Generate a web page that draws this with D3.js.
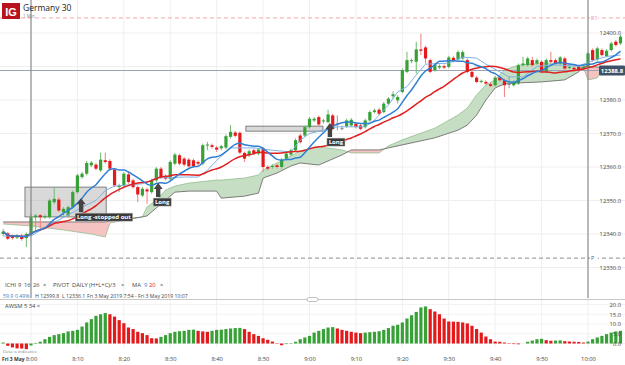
<!DOCTYPE html>
<html>
<head>
<meta charset="utf-8">
<script src="https://cdn.jsdelivr.net/npm/d3@7"></script>
<style>
  body { margin: 0; background: #fff; }
  svg { display: block; font-family: "Open Sans", Roboto, sans-serif; }
</style>
</head>
<body>
<div id="chart"></div>
<script>
// 1 minute candles, Fri 3 May 2019, first one at 7:54 : [open, high, low, close]
const firstCandle = [7, 54];
const candles = [
  [12340.0, 12341.5, 12339.5, 12340.7], [12340.2, 12340.6, 12338.2, 12338.6],
  [12339.2, 12339.8, 12338.3, 12338.8], [12338.9, 12339.9, 12338.5, 12339.5],
  [12339.5, 12340.0, 12338.0, 12338.5], [12338.8, 12340.5, 12336.1, 12340.0],
  [12339.8, 12346.0, 12339.5, 12345.0], [12345.0, 12346.0, 12341.0, 12345.5],
  [12345.6, 12346.0, 12341.5, 12345.0], [12345.0, 12345.8, 12344.5, 12345.3],
  [12345.0, 12350.5, 12344.6, 12350.0], [12349.5, 12354.0, 12349.0, 12350.5],
  [12350.3, 12351.0, 12346.5, 12347.0], [12346.5, 12348.0, 12345.5, 12347.5],
  [12345.5, 12348.5, 12345.0, 12348.0], [12348.0, 12353.0, 12347.5, 12352.5],
  [12352.5, 12358.0, 12352.0, 12357.5], [12357.0, 12358.5, 12356.5, 12358.0],
  [12358.0, 12361.8, 12357.5, 12361.2], [12360.5, 12361.8, 12360.0, 12361.3],
  [12360.7, 12361.2, 12359.0, 12359.5], [12359.0, 12364.3, 12358.5, 12362.2],
  [12362.0, 12364.3, 12361.0, 12361.5], [12361.8, 12362.3, 12359.0, 12359.5],
  [12359.2, 12359.6, 12354.0, 12354.5], [12354.0, 12355.0, 12352.5, 12354.5],
  [12354.5, 12358.5, 12354.0, 12358.0], [12357.8, 12358.3, 12355.0, 12355.5],
  [12356.0, 12356.5, 12353.5, 12354.0], [12354.0, 12354.5, 12349.5, 12351.8],
  [12351.5, 12354.0, 12351.0, 12353.5], [12353.3, 12353.8, 12349.0, 12352.7],
  [12352.5, 12356.5, 12352.0, 12356.0], [12356.0, 12360.0, 12355.5, 12359.5],
  [12359.5, 12360.0, 12356.5, 12357.0], [12357.2, 12357.8, 12356.0, 12356.5],
  [12356.5, 12362.0, 12356.0, 12361.5], [12361.0, 12364.2, 12360.5, 12363.7],
  [12363.5, 12364.0, 12360.5, 12361.0], [12362.5, 12363.0, 12360.2, 12360.7],
  [12362.2, 12362.7, 12359.8, 12360.2], [12362.0, 12362.5, 12359.8, 12360.3],
  [12361.5, 12362.0, 12360.5, 12361.0], [12361.0, 12367.0, 12360.5, 12366.5],
  [12366.5, 12367.5, 12365.0, 12366.7], [12366.5, 12367.0, 12365.5, 12366.0],
  [12365.8, 12366.3, 12364.5, 12365.2], [12365.6, 12366.6, 12365.0, 12366.2],
  [12365.8, 12369.7, 12365.3, 12369.2], [12369.0, 12372.5, 12368.5, 12370.5],
  [12370.3, 12370.8, 12368.8, 12369.3], [12370.2, 12370.6, 12363.8, 12364.3],
  [12364.2, 12364.6, 12361.5, 12362.5], [12363.5, 12365.2, 12363.0, 12364.7],
  [12365.0, 12365.5, 12363.5, 12364.0], [12364.0, 12365.7, 12363.5, 12365.2],
  [12365.5, 12366.0, 12358.5, 12360.0], [12360.0, 12360.5, 12359.0, 12359.5],
  [12360.0, 12360.8, 12359.5, 12360.3], [12360.5, 12361.0, 12359.5, 12360.0],
  [12360.0, 12362.7, 12359.5, 12362.2], [12362.5, 12364.5, 12362.0, 12364.0],
  [12363.7, 12365.5, 12363.2, 12365.0], [12365.0, 12368.5, 12364.5, 12368.0],
  [12369.4, 12370.0, 12367.0, 12367.4], [12369.4, 12372.4, 12369.0, 12371.9],
  [12371.9, 12374.9, 12371.5, 12374.4], [12373.9, 12374.9, 12373.4, 12374.4],
  [12374.9, 12375.4, 12372.2, 12372.7], [12373.6, 12374.4, 12373.0, 12373.9],
  [12373.4, 12377.1, 12373.0, 12375.7], [12375.4, 12375.9, 12371.0, 12371.4],
  [12373.0, 12375.4, 12370.9, 12373.0], [12371.6, 12372.4, 12371.0, 12371.6],
  [12372.1, 12374.4, 12371.7, 12373.9], [12372.4, 12374.6, 12372.0, 12374.1],
  [12372.9, 12373.4, 12371.5, 12371.9], [12372.4, 12372.9, 12371.0, 12371.4],
  [12371.9, 12374.4, 12371.5, 12373.9], [12373.9, 12376.9, 12373.5, 12376.4],
  [12376.4, 12377.4, 12376.0, 12376.9], [12377.1, 12377.6, 12375.5, 12375.9],
  [12376.4, 12379.4, 12376.0, 12378.9], [12378.9, 12380.9, 12378.5, 12380.4],
  [12381.1, 12382.6, 12380.4, 12381.7], [12379.9, 12381.4, 12379.0, 12380.9],
  [12382.4, 12389.4, 12382.0, 12388.9], [12388.4, 12394.4, 12388.0, 12391.9],
  [12391.6, 12392.4, 12391.0, 12391.9], [12391.4, 12397.4, 12387.9, 12395.1],
  [12395.1, 12399.8, 12393.4, 12394.7], [12395.7, 12396.2, 12390.9, 12392.4],
  [12391.9, 12392.4, 12388.0, 12388.4], [12388.9, 12390.9, 12388.5, 12390.4],
  [12389.7, 12390.6, 12389.2, 12390.1], [12390.1, 12390.6, 12389.2, 12389.7],
  [12389.9, 12393.2, 12389.5, 12392.7], [12392.6, 12393.1, 12391.2, 12391.7],
  [12392.1, 12394.8, 12391.7, 12394.3], [12392.4, 12394.8, 12392.0, 12394.3],
  [12391.9, 12392.4, 12388.0, 12388.4], [12388.4, 12388.9, 12386.5, 12386.9],
  [12386.7, 12387.2, 12385.0, 12385.4], [12385.4, 12386.1, 12385.0, 12385.7],
  [12385.4, 12385.9, 12384.5, 12384.9], [12384.7, 12385.2, 12383.8, 12384.2],
  [12384.4, 12387.2, 12384.0, 12386.7], [12386.7, 12387.2, 12385.4, 12385.9],
  [12385.9, 12386.4, 12380.9, 12384.4], [12384.8, 12387.0, 12383.5, 12384.8],
  [12384.4, 12385.9, 12384.0, 12385.4], [12384.9, 12390.9, 12384.5, 12390.4],
  [12390.4, 12392.9, 12390.0, 12390.9], [12390.4, 12392.9, 12390.0, 12392.4],
  [12391.9, 12392.9, 12390.0, 12390.4], [12390.9, 12392.4, 12390.5, 12391.9],
  [12391.4, 12391.9, 12388.0, 12388.4], [12388.4, 12392.4, 12388.0, 12391.9],
  [12391.9, 12394.4, 12391.0, 12391.4], [12391.9, 12392.4, 12390.5, 12390.9],
  [12390.9, 12393.2, 12390.5, 12392.7], [12392.4, 12392.9, 12389.0, 12389.4],
  [12389.6, 12390.4, 12389.2, 12389.9], [12389.6, 12390.1, 12388.7, 12389.1],
  [12389.9, 12390.4, 12388.5, 12388.9], [12389.4, 12390.4, 12389.0, 12389.9],
  [12389.9, 12394.4, 12389.5, 12393.9], [12394.9, 12395.4, 12391.5, 12391.9],
  [12392.1, 12395.9, 12391.7, 12395.4], [12394.9, 12395.4, 12393.0, 12393.4],
  [12393.1, 12395.2, 12392.7, 12394.7], [12394.9, 12397.4, 12394.5, 12396.9],
  [12397.4, 12397.9, 12396.0, 12396.4], [12396.9, 12399.4, 12396.5, 12398.9]
];

// Awesome oscillator (5, 34), one value per candle
const awsm = [
  0.5, -1.2, -2.0, -2.5, -2.6, -2.9, -1.0, 0.3, 0.9, 2.2,
  3.4, 4.3, 4.8, 5.3, 6.2, 6.5, 7.0, 8.7, 10.8, 12.5,
  14.2, 15.0, 15.6, 15.0, 13.8, 12.0, 10.4, 8.2, 7.4, 6.0,
  5.3, 4.3, 2.7, 2.6, 3.4, 4.3, 5.3, 6.0, 6.3, 6.5,
  7.0, 7.1, 6.5, 6.2, 6.0, 6.5, 7.0, 7.1, 7.4, 7.7,
  7.9, 8.0, 7.4, 6.0, 4.8, 3.9, 2.7, 1.9, 1.0, 0.2,
  -0.9, -0.3, 0.2, 0.9, 2.2, 3.1, 3.9, 5.6, 6.5, 7.4,
  8.2, 8.4, 7.7, 7.0, 6.5, 6.0, 5.6, 5.3, 5.6, 5.8,
  6.0, 6.3, 7.0, 7.9, 9.1, 9.6, 10.8, 12.8, 14.5, 16.2,
  18.5, 19.0, 17.6, 16.4, 15.0, 12.8, 11.3, 11.2, 11.1, 10.8,
  10.3, 9.1, 7.4, 5.6, 3.6, 2.2, 1.0, 0.9, 0.5, 0.2,
  -0.3, -0.4, 0.0, 0.9, 1.5, 2.2, 2.4, 1.7, 1.4, 1.5,
  1.6, 1.2, 1.0, 0.9, 0.8, 0.5, 1.0, 2.2, 3.1, 3.9,
  4.8, 5.6, 6.2, 6.5
];

// Ichimoku conversion line (thin light blue)
const tenkanTimes = ["7:54", "8:00", "8:04", "8:08", "8:12", "8:14", "8:16", "8:18", "8:24",
  "8:27", "8:33", "8:36", "8:38", "8:40", "8:43", "8:48", "8:52", "8:56", "8:58", "9:00",
  "9:03", "9:06", "9:12", "9:14", "9:17", "9:19", "9:21", "9:23", "9:25", "9:30", "9:33",
  "9:36", "9:38", "9:41", "9:43", "9:46", "9:49", "9:52", "9:58", "10:00", "10:04", "10:07"];
const tenkan = [12339.4, 12339.4, 12342.7, 12345.7, 12348.7, 12350.0, 12353.0, 12354.3, 12355.0,
  12356.7, 12357.0, 12357.0, 12359.0, 12362.0, 12365.7, 12365.7, 12365.0, 12364.5, 12368.0, 12370.0,
  12371.0, 12372.0, 12372.0, 12374.0, 12378.5, 12382.4, 12384.0, 12387.5, 12390.7, 12391.0, 12392.8,
  12392.5, 12390.7, 12388.4, 12386.9, 12386.9, 12390.0, 12390.5, 12390.1, 12391.3, 12393.0, 12393.4];

// Ichimoku cloud, leading spans A and B
const cloudTimes = ["7:54", "8:00", "8:07", "8:13", "8:16", "8:17", "8:24", "8:25", "8:27", "8:29",
  "8:31", "8:34", "8:40", "8:41", "8:46", "8:49", "8:50", "8:53", "8:56", "8:58", "9:02", "9:07",
  "9:09", "9:15", "9:17", "9:20", "9:27", "9:32", "9:34", "9:36", "9:38", "9:40", "9:42", "9:45",
  "9:50", "9:55", "9:58", "9:59", "10:00", "10:02", "10:03"];
const spanA = [12343.0, 12342.4, 12341.2, 12340.0, 12339.1, 12343.3, 12345.1, 12348.1, 12350.1, 12353.1,
  12354.3, 12355.2, 12356.1, 12356.1, 12356.7, 12357.6, 12359.1, 12361.2, 12363.3, 12364.8, 12366.0, 12365.1,
  12364.2, 12364.2, 12366.3, 12368.1, 12371.6, 12375.5, 12377.6, 12381.5, 12384.5, 12386.0, 12389.0, 12390.4,
  12391.0, 12391.0, 12390.1, 12389.6, 12386.0, 12386.6, 12389.0];
const spanB = [12343.6, 12343.6, 12343.6, 12343.6, 12343.6, 12343.9, 12345.1, 12345.4, 12347.8, 12350.1,
  12352.5, 12352.8, 12352.8, 12350.7, 12351.3, 12352.2, 12356.7, 12358.2, 12360.3, 12361.2, 12360.6, 12363.6,
  12365.1, 12365.1, 12365.7, 12366.6, 12368.7, 12371.0, 12372.5, 12375.5, 12380.0, 12383.6, 12384.8, 12385.1,
  12385.4, 12386.0, 12388.4, 12390.1, 12389.9, 12389.9, 12389.0];

const priceTicks = [12330, 12340, 12350, 12360, 12370, 12380, 12390, 12400];
const awsmTicks = [0, 5, 10, 15, 20];
const pivotR1 = 12404.5;
const pivotP = 12332.8;
const levelLine = 12388.8;

// trade annotations (drawn by the user on the chart)
const boxes = [
  { from: [7, 58.7], to: [8, 16.2], hi: 12354.0, lo: 12345.1 },
  { from: [8, 46.3], to: [9, 2.9], hi: 12372.2, lo: 12370.7 }
];
const arrows = [
  { at: [8, 10.8], price: 12350.7, label: "Long -stopped out", dx: -6 },
  { at: [8, 27.4], price: 12355.2, label: "Long", dx: -5 },
  { at: [9, 4.4], price: 12373.1, label: "Long", dx: -3 }
];

const width = 625, height = 365;
const green = '#37a137', red = '#e3191c';

function tm(h, m) { return new Date(2019, 4, 3, h, 0, 0, Math.round(m * 60000)); }
function ts(s) { const p = s.split(':'); return tm(+p[0], +p[1]); }

const svg = d3.select('#chart').append('svg')
  .attr('width', width)
  .attr('height', height);

const x = d3.scaleTime()
  .domain([tm(8, 0), tm(10, 0)])
  .range([31, 588]);

const y = d3.scaleLinear()
  .domain([12330, 12400])
  .range([267.5, 33]);

const ya = d3.scaleLinear()
  .domain([0, 20])
  .range([343.5, 304.5]);

const data = candles.map((c, i) => ({
  t: tm(firstCandle[0], firstCandle[1] + i),
  o: c[0], h: c[1], l: c[2], c: c[3]
}));

// grid
const grid = svg.append('g');
const timeTicks = x.ticks(d3.timeMinute.every(10));
grid.selectAll('.vg').data(timeTicks).join('line')
  .attr('x1', d => x(d)).attr('x2', d => x(d))
  .attr('y1', 0).attr('y2', 347)
  .attr('stroke', '#efefef');
grid.selectAll('.hg').data(priceTicks).join('line')
  .attr('x1', 0).attr('x2', width)
  .attr('y1', d => y(d)).attr('y2', d => y(d))
  .attr('stroke', '#efefef');
grid.selectAll('.ag').data(awsmTicks).join('line')
  .attr('x1', 0).attr('x2', width)
  .attr('y1', d => ya(d)).attr('y2', d => ya(d))
  .attr('stroke', '#f2f2f2');

// pivot lines
svg.append('line')
  .attr('x1', 0).attr('x2', width)
  .attr('y1', y(pivotR1)).attr('y2', y(pivotR1))
  .attr('stroke', '#f3a7a7').attr('stroke-dasharray', '4,3');
svg.append('line')
  .attr('x1', 0).attr('x2', width)
  .attr('y1', y(pivotP)).attr('y2', y(pivotP))
  .attr('stroke', '#8c8c8c').attr('stroke-dasharray', '4,3');

// Ichimoku cloud
const cloud = cloudTimes.map((s, i) => ({ t: ts(s), a: spanA[i], b: spanB[i] }));
const defs = svg.append('defs');
defs.append('clipPath').attr('id', 'above-b').append('path')
  .attr('d', d3.area().x(d => x(d.t)).y0(0).y1(d => y(d.b))(cloud));
defs.append('clipPath').attr('id', 'below-b').append('path')
  .attr('d', d3.area().x(d => x(d.t)).y0(300).y1(d => y(d.b))(cloud));
const cloudArea = d3.area().x(d => x(d.t)).y0(d => y(d.b)).y1(d => y(d.a));
svg.append('path').datum(cloud)
  .attr('clip-path', 'url(#above-b)')
  .attr('d', cloudArea)
  .attr('fill', '#c6dfc4');
svg.append('path').datum(cloud)
  .attr('clip-path', 'url(#below-b)')
  .attr('d', cloudArea)
  .attr('fill', '#f6c3c3');
svg.append('path').datum(cloud)
  .attr('d', d3.line().x(d => x(d.t)).y(d => y(d.a)))
  .attr('fill', 'none').attr('stroke', '#93bf90').attr('stroke-width', 0.8);
svg.append('path').datum(cloud)
  .attr('d', d3.line().x(d => x(d.t)).y(d => y(d.b)))
  .attr('fill', 'none').attr('stroke', '#5f5f5f').attr('stroke-width', 0.8);

// level line
svg.append('line')
  .attr('x1', 0).attr('x2', width)
  .attr('y1', y(levelLine)).attr('y2', y(levelLine))
  .attr('stroke', '#9aa3b5');

// annotation boxes
svg.selectAll('.box').data(boxes).join('rect')
  .attr('x', d => x(tm(d.from[0], d.from[1])))
  .attr('y', d => y(d.hi))
  .attr('width', d => x(tm(d.to[0], d.to[1])) - x(tm(d.from[0], d.from[1])))
  .attr('height', d => y(d.lo) - y(d.hi))
  .attr('fill', 'rgba(170,170,170,0.45)')
  .attr('stroke', '#666').attr('stroke-width', 0.8);

// candles
const cg = svg.append('g');
const colorOf = d => Math.abs(d.c - d.o) < 0.05 ? '#8a8a8a' : (d.c > d.o ? green : red);
cg.selectAll('.wick').data(data).join('line')
  .attr('x1', d => x(d.t)).attr('x2', d => x(d.t))
  .attr('y1', d => y(d.h)).attr('y2', d => y(d.l))
  .attr('stroke', d => colorOf(d) === green ? '#6fbb6f' : (colorOf(d) === red ? '#ec8080' : '#999'))
  .attr('stroke-width', 1);
cg.selectAll('.body').data(data).join('rect')
  .attr('x', d => x(d.t) - 1.6)
  .attr('width', 3.2)
  .attr('y', d => y(Math.max(d.o, d.c)))
  .attr('height', d => Math.max(1, Math.abs(y(d.o) - y(d.c))))
  .attr('fill', colorOf);

// moving averages on close
function sma(n) {
  return data.map((d, i) => {
    const w = data.slice(Math.max(0, i - n + 1), i + 1);
    return { t: d.t, v: d3.mean(w, e => e.c) };
  });
}
const maLine = d3.line().x(d => x(d.t)).y(d => y(d.v)).curve(d3.curveMonotoneX);
svg.append('path').datum(tenkanTimes.map((s, i) => ({ t: ts(s), v: tenkan[i] })))
  .attr('d', d3.line().x(d => x(d.t)).y(d => y(d.v)))
  .attr('fill', 'none').attr('stroke', '#7fb1e3').attr('stroke-width', 1);
svg.append('path').datum(sma(20))
  .attr('d', maLine)
  .attr('fill', 'none').attr('stroke', '#e02020').attr('stroke-width', 1.5);
svg.append('path').datum(sma(9))
  .attr('d', maLine)
  .attr('fill', 'none').attr('stroke', '#2f7fd3').attr('stroke-width', 1.5);

// arrows and labels
const ag = svg.append('g');
arrows.forEach(a => {
  const ax = x(tm(a.at[0], a.at[1])), ay = y(a.price);
  ag.append('path')
    .attr('d', `M${ax},${ay} l4.5,6 h-2.3 v8 h-4.4 v-8 h-2.3 Z`)
    .attr('fill', '#444');
  const label = ag.append('g').attr('transform', `translate(${ax + a.dx},${ay + 15})`);
  const bg = label.append('rect').attr('height', 8).attr('fill', '#3a3a3a')
    .attr('stroke', '#bbb').attr('stroke-width', 0.5);
  const txt = label.append('text').attr('x', 1.8).attr('y', 6.1)
    .attr('fill', '#fff').attr('font-size', 6).attr('font-weight', 'bold')
    .text(a.label);
  bg.attr('width', txt.node().getComputedTextLength() + 3.6);
});

// vertical session lines
svg.selectAll('.vl').data([tm(8, 0), tm(10, 0)]).join('line')
  .attr('x1', d => x(d)).attr('x2', d => x(d))
  .attr('y1', 0).attr('y2', 298)
  .attr('stroke', '#7a7a7a');

// price axis labels (12390 sits under the level tag)
const yAxis = d3.axisRight(y)
  .tickValues(priceTicks.filter(v => Math.abs(v - levelLine) > 3))
  .tickSize(0).tickPadding(0).tickFormat(d3.format('.1f'));
svg.append('g')
  .attr('transform', 'translate(621,0)')
  .call(yAxis)
  .call(g => g.select('.domain').remove())
  .call(g => g.selectAll('text').attr('text-anchor', 'end').attr('font-size', 5.8).attr('fill', '#444')
    .attr('font-family', '"Open Sans", sans-serif'));

// pivot labels
[[pivotR1, 'R1', '#e58f8f'], [pivotP, 'P', '#666']].forEach(([v, s, c]) => {
  svg.append('rect').attr('x', 590).attr('y', y(v) - 3.5).attr('width', 8).attr('height', 7).attr('fill', '#fff');
  svg.append('text').attr('x', 591).attr('y', y(v) + 2)
    .attr('font-size', 5.5).attr('fill', c).text(s);
});

// level tag
svg.append('rect')
  .attr('x', 599).attr('y', y(levelLine) - 5)
  .attr('width', 26).attr('height', 10).attr('rx', 1)
  .attr('fill', '#3f5166');
svg.append('text')
  .attr('x', 612).attr('y', y(levelLine) + 2.2)
  .attr('text-anchor', 'middle')
  .attr('font-size', 6).attr('fill', '#fff').attr('font-weight', 'bold')
  .text(d3.format('.1f')(levelLine));

// header
svg.append('rect').attr('x', 2).attr('y', 3).attr('width', 18).attr('height', 16).attr('fill', '#b8131c');
svg.append('text').attr('x', 11).attr('y', 15.5).attr('text-anchor', 'middle')
  .attr('font-family', 'Arial, sans-serif')
  .attr('font-size', 11).attr('font-weight', 'bold').attr('fill', '#fff').text('IG');
svg.append('text').attr('x', 23).attr('y', 10.5)
  .attr('font-size', 8.5).attr('fill', '#222').text('Germany 30');
svg.append('text').attr('x', 23).attr('y', 17.5)
  .attr('font-size', 4.5).attr('fill', '#888').text('1 Min');

// indicator legend
const leg = svg.append('g').attr('font-size', 5.8).attr('fill', '#444');
[['ICHI', 5], ['9', 18], ['16', 24], ['26', 33], ['×', 43], ['PIVOT', 53], ['DAILY', 72],
 ['(H+L+C)/3', 89], ['×', 121], ['MA', 132], ['×', 160]].forEach(([s, px]) => {
  leg.append('text').attr('x', px).attr('y', 287).text(s);
});
leg.append('text').attr('x', 144).attr('y', 287).attr('fill', '#2f7fd3').text('9');
leg.append('text').attr('x', 149).attr('y', 287).attr('fill', '#e02020').text('20');

const info = svg.append('g').attr('font-size', 5.2).attr('fill', '#444');
info.append('text').attr('x', 3).attr('y', 297.5).attr('fill', '#3b7fc4').text('59.9');
info.append('text').attr('x', 15).attr('y', 297.5).attr('fill', '#3b7fc4').text('0.49%');
info.append('text').attr('x', 35).attr('y', 297.5).text('H 12399.8');
info.append('text').attr('x', 62).attr('y', 297.5).text('L 12336.1');
info.append('text').attr('x', 87).attr('y', 297.5).text('Fri 3 May 2019 7:54 - Fri 3 May 2019 10:07');

// panel divider
svg.append('line').attr('x1', 0).attr('x2', width).attr('y1', 299.5).attr('y2', 299.5)
  .attr('stroke', '#c8c8c8');
svg.append('rect').attr('x', 307).attr('y', 297.5).attr('width', 11).attr('height', 4).attr('rx', 2)
  .attr('fill', '#fff').attr('stroke', '#999').attr('stroke-width', 0.6);

// AWSM panel
svg.append('text').attr('x', 5).attr('y', 307.5).attr('font-size', 5.8).attr('fill', '#444')
  .text('AWSM  5  34  ×');
svg.selectAll('.ab').data(data).join('rect')
  .attr('x', d => x(d.t) - 1.6)
  .attr('width', 3.2)
  .attr('y', (d, i) => ya(Math.max(0, awsm[i])))
  .attr('height', (d, i) => Math.abs(ya(awsm[i]) - ya(0)))
  .attr('fill', (d, i) => (i === 0 || awsm[i] > awsm[i - 1]) ? green : red);

const aAxis = d3.axisRight(ya).tickValues(awsmTicks).tickSize(0).tickPadding(0).tickFormat(d3.format('.1f'));
svg.append('g')
  .attr('transform', 'translate(621,0)')
  .call(aAxis)
  .call(g => g.select('.domain').remove())
  .call(g => g.selectAll('text').attr('text-anchor', 'end').attr('font-size', 5.8).attr('fill', '#444')
    .attr('font-family', '"Open Sans", sans-serif'));

// time axis
svg.append('text').attr('x', 3).attr('y', 353).attr('font-size', 4.3).attr('fill', '#888')
  .text('Data is indicative');
const xAxis = d3.axisBottom(x).tickValues(timeTicks).tickSize(0).tickFormat(d3.timeFormat('%-H:%M'));
svg.append('g')
  .attr('transform', 'translate(0,354)')
  .call(xAxis)
  .call(g => g.select('.domain').remove())
  .call(g => g.selectAll('text').attr('font-size', 5.8).attr('fill', '#444')
    .attr('font-family', '"Open Sans", sans-serif'));
svg.append('text').attr('x', 2).attr('y', 361).attr('font-size', 5).attr('font-weight', 'bold')
  .attr('fill', '#333').text('Fri 3 May');
</script>
</body>
</html>
